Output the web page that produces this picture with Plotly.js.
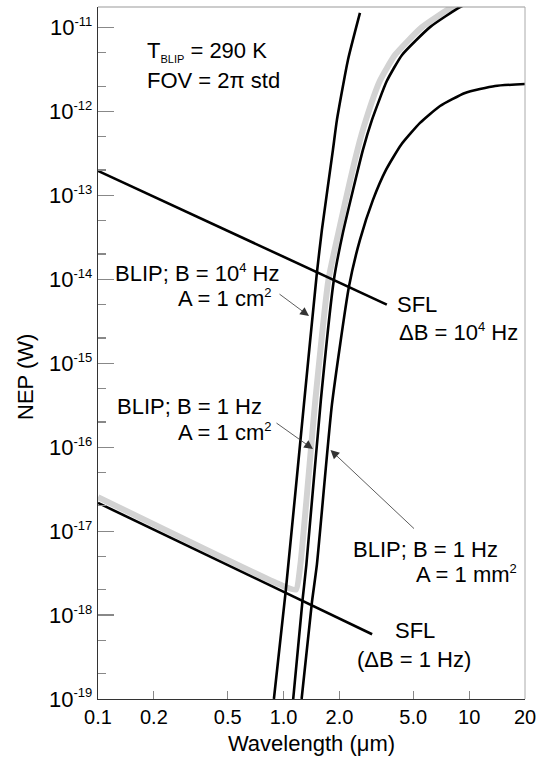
<!DOCTYPE html>
<html>
<head>
<meta charset="utf-8">
<script src="https://cdn.plot.ly/plotly-3.0.1.min.js"></script>
<style>html,body{margin:0;padding:0;background:#fff;}#chart{width:548px;height:759px;}</style>
</head>
<body>
<div id="chart"></div>
<script>
// ---- data (wavelength in µm, NEP in W) ----
const sflHiLam = [0.1, 3.6];
const sflHiNep = [1.96e-13, 5.0e-15];
const sflLoLam = [0.1, 3.0];
const sflLoNep = [2.17e-17, 5.9e-19];

const blip1Lam = [0.887, 1.029, 1.287, 1.512, 1.609, 1.845, 1.939, 2.223, 2.58];
const blip1Nep = [1.0e-19, 2.01e-18, 3.21e-16, 1.19e-14, 3.88e-14, 3.48e-13, 7.92e-13, 4.10e-12, 1.49e-11];

const blip2Lam = [1.127, 1.266, 1.327, 1.589, 1.867, 2.088, 2.677, 2.995, 3.60, 4.35, 6.153, 8.93, 10.8];
const blip2Nep = [1.0e-19, 1.53e-18, 3.99e-18, 3.67e-16, 9.86e-15, 3.58e-14, 3.48e-13, 7.92e-13, 2.30e-12, 4.71e-12, 1.01e-11, 1.75e-11, 2.1e-11];

const blip3Lam = [1.251, 1.421, 1.512, 1.822, 2.25, 2.58, 3.032, 3.563, 4.292, 5.436, 6.969, 9.504, 13.8, 20.0];
const blip3Nep = [1.0e-19, 1.41e-18, 3.99e-18, 3.21e-16, 8.15e-15, 2.95e-14, 8.83e-14, 2.01e-13, 3.99e-13, 7.29e-13, 1.16e-12, 1.66e-12, 2.01e-12, 2.12e-12];

const bandLam = [0.1, 0.955, 1.165, 1.232, 1.484, 1.745, 1.963, 2.501, 2.779, 3.30, 3.99, 5.572, 8.088, 9.5];
const bandNep = [2.54e-17, 2.31e-18, 2.01e-18, 3.99e-18, 3.67e-16, 9.86e-15, 3.39e-14, 3.48e-13, 7.92e-13, 2.30e-12, 4.71e-12, 1.01e-11, 1.75e-11, 2.0e-11];

const xTickVals = [0.1, 0.2, 0.5, 1, 2, 5, 10, 20];
const xTickText = ['0.1', '0.2', '0.5', '1.0', '2.0', '5.0', '10', '20'];
const yExps = [-19, -18, -17, -16, -15, -14, -13, -12, -11];

// ---- build ----
const yTickVals = yExps.map(e => Math.pow(10, e));
const yTickText = yExps.map(e => '10<sup><span style="font-size:13px">' + e + '</span></sup>');
const yMinor = [];
yExps.forEach(e => { [2, 5].forEach(m => { const v = m * Math.pow(10, e); if (v < 1.75e-11) yMinor.push(v); }); });

const FONT = 'Liberation Sans, Arial, Helvetica, sans-serif';
const black = {color: '#000', width: 2.6, shape: 'spline', smoothing: 0.5};

const traces = [
  {x: bandLam, y: bandNep, mode: 'lines', line: {color: '#d2d2d2', width: 6, shape: 'spline', smoothing: 0.5}, hoverinfo: 'skip', showlegend: false},
  {x: sflHiLam, y: sflHiNep, mode: 'lines', line: {color: '#000', width: 2.6}, name: 'SFL ΔB=10^4 Hz', showlegend: false},
  {x: sflLoLam, y: sflLoNep, mode: 'lines', line: {color: '#000', width: 2.6}, name: 'SFL ΔB=1 Hz', showlegend: false},
  {x: blip1Lam, y: blip1Nep, mode: 'lines', line: black, name: 'BLIP B=10^4 Hz A=1 cm2', showlegend: false},
  {x: blip2Lam, y: blip2Nep, mode: 'lines', line: black, name: 'BLIP B=1 Hz A=1 cm2', showlegend: false},
  {x: blip3Lam, y: blip3Nep, mode: 'lines', line: black, name: 'BLIP B=1 Hz A=1 mm2', showlegend: false}
];

// pixel helpers for label placement (plot area 98..525 x 7..699)
const L = 98, R = 525, T = 7, B = 699;
const px = v => (v - L) / (R - L);
const py = v => (B - v) / (B - T);
const tf = {family: FONT, size: 22, color: '#000'};

function lbl(text, x, y, xanchor) {
  return {xref: 'paper', yref: 'paper', x: px(x), y: py(y), text: text, showarrow: false,
          xanchor: xanchor || 'left', yanchor: 'middle', align: xanchor === 'right' ? 'right' : 'left', font: tf};
}
function arrow(x, y, ax, ay) {
  return {xref: 'paper', yref: 'paper', x: px(x), y: py(y), ax: ax, ay: ay, text: '', showarrow: true,
          arrowhead: 2, arrowsize: 2.2, arrowwidth: 0.8, arrowcolor: '#333', standoff: 0};
}

const annotations = [
  lbl('T<sub><span style="font-size:11px">BLIP</span></sub> = 290 K', 145, 52),
  lbl('FOV = 2π std', 145, 80),
  lbl('BLIP; B = 10<sup><span style="font-size:13px">4</span></sup> Hz', 281, 273, 'right'),
  lbl('A = 1 cm<sup><span style="font-size:13px">2</span></sup>', 273, 298, 'right'),
  lbl('BLIP; B = 1 Hz', 115, 407),
  lbl('A = 1 cm<sup><span style="font-size:13px">2</span></sup>', 273, 432, 'right'),
  lbl('BLIP; B = 1 Hz', 351, 549),
  lbl('A = 1 mm<sup><span style="font-size:13px">2</span></sup>', 519, 574, 'right'),
  lbl('SFL', 393, 630),
  lbl('(ΔB = 1 Hz)', 355, 659),
  lbl('SFL', 395, 304),
  lbl('ΔB = 10<sup><span style="font-size:13px">4</span></sup> Hz', 397, 332),
  arrow(309, 316, -31, -23),
  arrow(313, 449, -38, -27),
  arrow(330.5, 450, 85, 80),
  {xref: 'paper', yref: 'paper', x: px(25), y: py(377), text: 'NEP (W)', showarrow: false, textangle: -90,
   xanchor: 'center', yanchor: 'middle', font: tf}
];

const layout = {
  width: 548, height: 759,
  margin: {l: L, r: 548 - R, t: T, b: 759 - B},
  paper_bgcolor: '#fff', plot_bgcolor: '#fff',
  font: {family: FONT, color: '#000'},
  showlegend: false,
  xaxis: {
    type: 'log', range: [-1, Math.log10(20)],
    tickvals: xTickVals, ticktext: xTickText,
    ticks: 'inside', ticklen: 8, tickwidth: 1.2, tickcolor: '#888',
    showline: true, linecolor: '#333', linewidth: 1.3, showgrid: false, zeroline: false,
    tickfont: {family: FONT, size: 20, color: '#000'},
    title: {text: 'Wavelength (μm)', font: {family: FONT, size: 22, color: '#000'}, standoff: 8}
  },
  yaxis: {
    type: 'log', range: [-19, -10.756],
    tickvals: yTickVals, ticktext: yTickText,
    ticks: 'inside', ticklen: 16, tickwidth: 1.2, tickcolor: '#888',
    minor: {tickvals: yMinor, ticks: 'inside', ticklen: 8, tickwidth: 1.2, tickcolor: '#888', showgrid: false},
    showline: true, linecolor: '#333', linewidth: 1.3, showgrid: false, zeroline: false,
    tickfont: {family: FONT, size: 22, color: '#000'}
  },
  shapes: [
    {type: 'line', xref: 'paper', yref: 'paper', x0: 0, x1: 1, y0: 1, y1: 1, line: {color: '#999', width: 1}},
    {type: 'line', xref: 'paper', yref: 'paper', x0: 1, x1: 1, y0: 0, y1: 1, line: {color: '#aaa', width: 1}}
  ],
  annotations: annotations
};

Plotly.newPlot('chart', traces, layout, {staticPlot: true, displayModeBar: false});
</script>
</body>
</html>
